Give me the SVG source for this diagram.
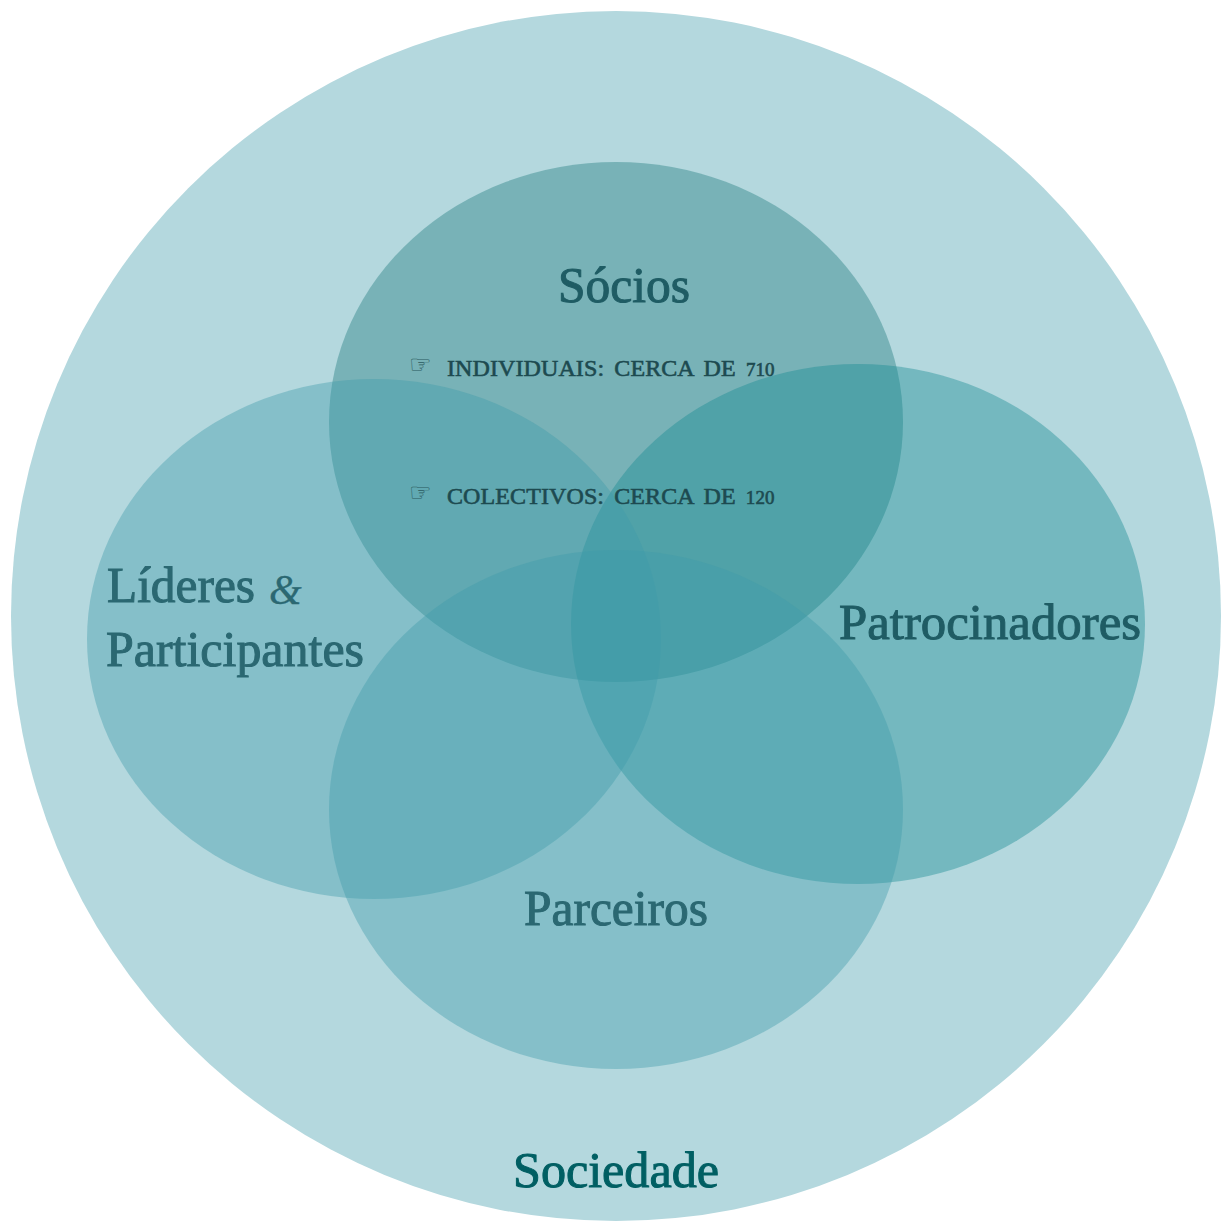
<svg xmlns="http://www.w3.org/2000/svg" width="1221" height="1225" viewBox="0 0 1221 1225">
<style>
text{font-family:"Liberation Serif","DejaVu Serif",serif}
.big{font-size:50px;stroke-width:1}
.sm{font-size:24px;fill:#1d4a50;stroke:#1d4a50;stroke-width:.6;word-spacing:4px;letter-spacing:.1px}
.num{font-size:19px;word-spacing:0}
.hand{font-family:"DejaVu Sans",sans-serif;font-size:25px;fill:#2a5a60}
.soft{fill:#2b6872;stroke:#2b6872}
.dark{fill:#1f5c64;stroke:#1f5c64}
.lb{fill:#3f9aaa;fill-opacity:.4}
</style>
<rect width="1221" height="1225" fill="#ffffff"/>
<g id="sociedade">
<circle cx="616" cy="616" r="605" fill="#b4d8de"/>
<text class="big" x="616" y="1187" text-anchor="middle" fill="#005f63" stroke="#005f63" textLength="206" lengthAdjust="spacingAndGlyphs">Sociedade</text>
</g>
<g id="socios-shape">
<ellipse cx="616" cy="422" rx="287" ry="260" fill="#1d7b7d" fill-opacity=".4"/>
</g>
<g id="patrocinadores">
<ellipse cx="858" cy="624" rx="287" ry="260" fill="#158a90" fill-opacity=".4"/>
<text class="big dark" x="839" y="639" textLength="302" lengthAdjust="spacingAndGlyphs">Patrocinadores</text>
</g>
<g id="lideres">
<ellipse class="lb" cx="374" cy="639" rx="287" ry="260"/>
<text class="big soft" x="107" y="602" textLength="148" lengthAdjust="spacingAndGlyphs">Líderes</text>
<text class="soft" x="269" y="604" font-size="42" font-style="italic" stroke-width=".3">&amp;</text>
<text class="big soft" x="106" y="666" textLength="258" lengthAdjust="spacingAndGlyphs">Participantes</text>
</g>
<g id="parceiros">
<ellipse class="lb" cx="616" cy="809.500" rx="287" ry="259.500"/>
<text class="big soft" x="524" y="925" textLength="184" lengthAdjust="spacingAndGlyphs">Parceiros</text>
</g>
<g id="socios">
<text class="big dark" x="558" y="302" textLength="132" lengthAdjust="spacingAndGlyphs">Sócios</text>
<text class="hand" x="409" y="373">☞</text>
<text class="sm" x="447" y="376">INDIVIDUAIS: CERCA DE <tspan class="num">710</tspan></text>
<text class="hand" x="409" y="501">☞</text>
<text class="sm" x="447" y="504">COLECTIVOS: CERCA DE <tspan class="num">120</tspan></text>
</g>
<g id="connectors"></g>
</svg>
